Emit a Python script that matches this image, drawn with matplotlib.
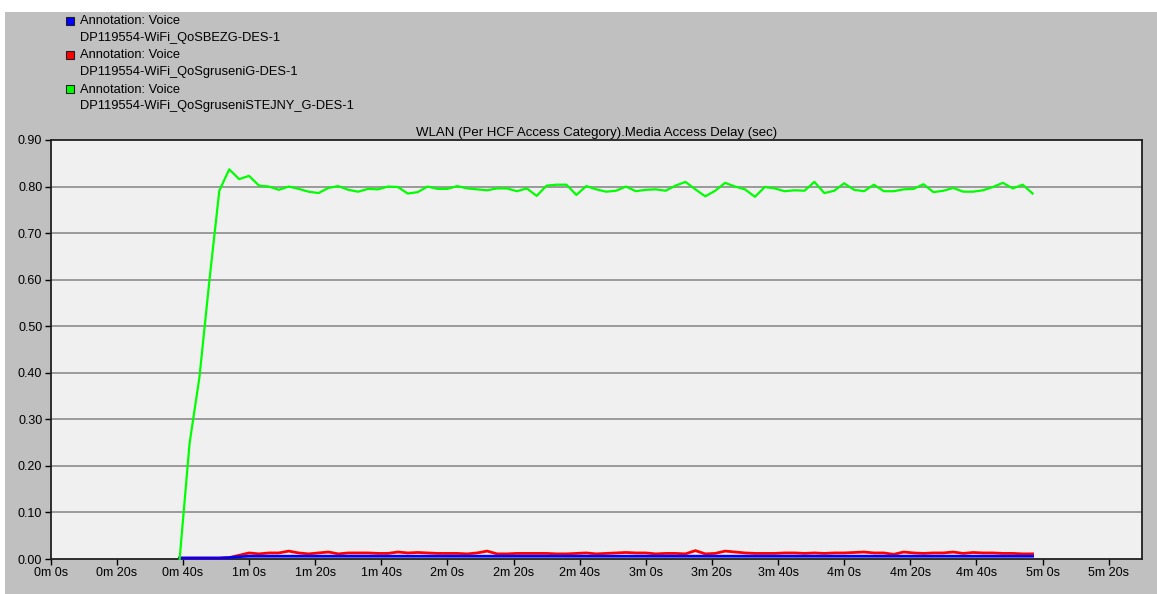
import matplotlib
matplotlib.use("Agg")
import matplotlib.pyplot as plt
from matplotlib.patches import Rectangle

plt.rcParams['font.family'] = ['Liberation Sans', 'DejaVu Sans']
plt.rcParams['font.size'] = 9

# sample times (s) and Media Access Delay (sec) per scenario
times = [39, 42, 45, 48, 51, 54, 57, 60, 63, 66, 69, 72, 75, 78, 81, 84, 87, 90,
         93, 96, 99, 102, 105, 108, 111, 114, 117, 120, 123, 126, 129, 132, 135,
         138, 141, 144, 147, 150, 153, 156, 159, 162, 165, 168, 171, 174, 177, 180,
         183, 186, 189, 192, 195, 198, 201, 204, 207, 210, 213, 216, 219, 222, 225,
         228, 231, 234, 237, 240, 243, 246, 249, 252, 255, 258, 261, 264, 267, 270,
         273, 276, 279, 282, 285, 288, 291, 294, 297]

delay_bez = [0.002, 0.002, 0.002, 0.002, 0.002, 0.003, 0.005, 0.006, 0.006, 0.006,
             0.006, 0.006, 0.006, 0.006, 0.006, 0.006, 0.006, 0.006, 0.006, 0.006,
             0.006, 0.006, 0.006, 0.006, 0.006, 0.006, 0.006, 0.006, 0.006, 0.006,
             0.006, 0.006, 0.006, 0.006, 0.006, 0.006, 0.006, 0.006, 0.006, 0.006,
             0.006, 0.006, 0.006, 0.006, 0.006, 0.006, 0.006, 0.006, 0.006, 0.006,
             0.006, 0.006, 0.006, 0.006, 0.006, 0.006, 0.006, 0.006, 0.006, 0.006,
             0.006, 0.006, 0.006, 0.006, 0.006, 0.006, 0.006, 0.006, 0.006, 0.006,
             0.006, 0.006, 0.006, 0.006, 0.006, 0.006, 0.006, 0.006, 0.006, 0.006,
             0.006, 0.006, 0.006, 0.006, 0.006, 0.006, 0.006]

delay_grouped = [0.002, 0.002, 0.002, 0.002, 0.002, 0.003, 0.008, 0.013, 0.011, 0.013,
                 0.013, 0.017, 0.013, 0.011, 0.013, 0.015, 0.011, 0.013, 0.013, 0.013,
                 0.012, 0.012, 0.015, 0.013, 0.014, 0.013, 0.012, 0.012, 0.012, 0.011,
                 0.013, 0.017, 0.011, 0.011, 0.012, 0.012, 0.012, 0.012, 0.011, 0.011,
                 0.012, 0.013, 0.011, 0.012, 0.013, 0.014, 0.013, 0.013, 0.011, 0.012,
                 0.012, 0.011, 0.018, 0.011, 0.012, 0.017, 0.015, 0.013, 0.012, 0.012,
                 0.012, 0.013, 0.013, 0.012, 0.013, 0.012, 0.013, 0.013, 0.014, 0.015,
                 0.013, 0.013, 0.010, 0.015, 0.013, 0.012, 0.013, 0.013, 0.015, 0.012,
                 0.014, 0.013, 0.013, 0.012, 0.012, 0.011, 0.011]

delay_same = [0.0, 0.248, 0.391, 0.598, 0.791, 0.837, 0.816, 0.823, 0.802, 0.800,
              0.793, 0.800, 0.795, 0.789, 0.786, 0.797, 0.801, 0.793, 0.789, 0.795,
              0.794, 0.800, 0.799, 0.785, 0.788, 0.800, 0.795, 0.795, 0.801, 0.796,
              0.794, 0.792, 0.796, 0.796, 0.790, 0.796, 0.780, 0.802, 0.804, 0.804,
              0.782, 0.801, 0.794, 0.789, 0.791, 0.800, 0.790, 0.793, 0.794, 0.791,
              0.802, 0.810, 0.794, 0.779, 0.791, 0.808, 0.800, 0.794, 0.778, 0.799,
              0.796, 0.790, 0.792, 0.791, 0.810, 0.786, 0.791, 0.807, 0.793, 0.790,
              0.804, 0.790, 0.790, 0.794, 0.795, 0.805, 0.788, 0.791, 0.797, 0.789,
              0.789, 0.792, 0.799, 0.808, 0.796, 0.804, 0.785]

series_names = ["DP119554-WiFi_QoSBEZG-DES-1",
                "DP119554-WiFi_QoSgruseniG-DES-1",
                "DP119554-WiFi_QoSgruseniSTEJNY_G-DES-1"]
series_colors = ["#0000ff", "#ff0000", "#00ff00"]
series_widths = [2.0, 2.0, 1.6]
series_z = [4, 3, 5]
x_ticks = [0, 20, 40, 60, 80, 100, 120, 140, 160, 180, 200, 220, 240, 260, 280, 300, 320]
y_ticks = [0.0, 0.1, 0.2, 0.3, 0.4, 0.5, 0.6, 0.7, 0.8, 0.9]

W, H = 1157, 594
fig = plt.figure(figsize=(W / 100, H / 100), dpi=100)
fig.patch.set_facecolor('white')
fig.add_artist(Rectangle((5 / W, 0), 1, (H - 12) / H, transform=fig.transFigure,
                         facecolor='#c0c0c0', edgecolor='none', zorder=-10))

ax = fig.add_axes([50.7 / W, (H - 559) / H, (1141.7 - 50.7) / W, (559 - 140) / H])
ax.set_facecolor('#f0f0f0')

for yv in y_ticks[1:-1]:
    ax.axhline(yv, color='#8c8c8c', lw=1.2, zorder=1)

for vals, col, lw, z in zip([delay_bez, delay_grouped, delay_same],
                            series_colors, series_widths, series_z):
    ax.plot(times, vals, color=col, lw=lw, zorder=z, clip_on=False)

ax.set_xlim(0, 330)
ax.set_ylim(0, 0.9)
ax.set_xticks(x_ticks)
ax.set_xticklabels([f"{t // 60}m {t % 60}s" for t in x_ticks])
ax.set_yticks(y_ticks)
ax.set_yticklabels([f"{v:.2f}" for v in y_ticks])
ax.tick_params(direction='out', length=4, width=1, colors='black', labelsize=9, pad=2)
for s in ax.spines.values():
    s.set_color('#202020')
    s.set_linewidth(1.3)
    s.set_zorder(2)

ax.set_title("WLAN (Per HCF Access Category).Media Access Delay (sec)", fontsize=9.5, pad=3)

# legend drawn by hand, like the OPNET panel
for i, (name, col) in enumerate(zip(series_names, series_colors)):
    ytop = 17 + i * 34
    fig.add_artist(Rectangle((66 / W, 1 - (ytop + 8) / H), 8 / W, 8 / H,
                             transform=fig.transFigure, facecolor=col,
                             edgecolor='#202020', lw=0.8))
    fig.text(80 / W, 1 - (ytop + 4.5) / H, "Annotation: Voice", va='center', ha='left', fontsize=9.3)
    fig.text(80 / W, 1 - (ytop + 21.5) / H, name, va='center', ha='left', fontsize=9.3)

fig.savefig("out.png", dpi=100, facecolor=fig.get_facecolor())
